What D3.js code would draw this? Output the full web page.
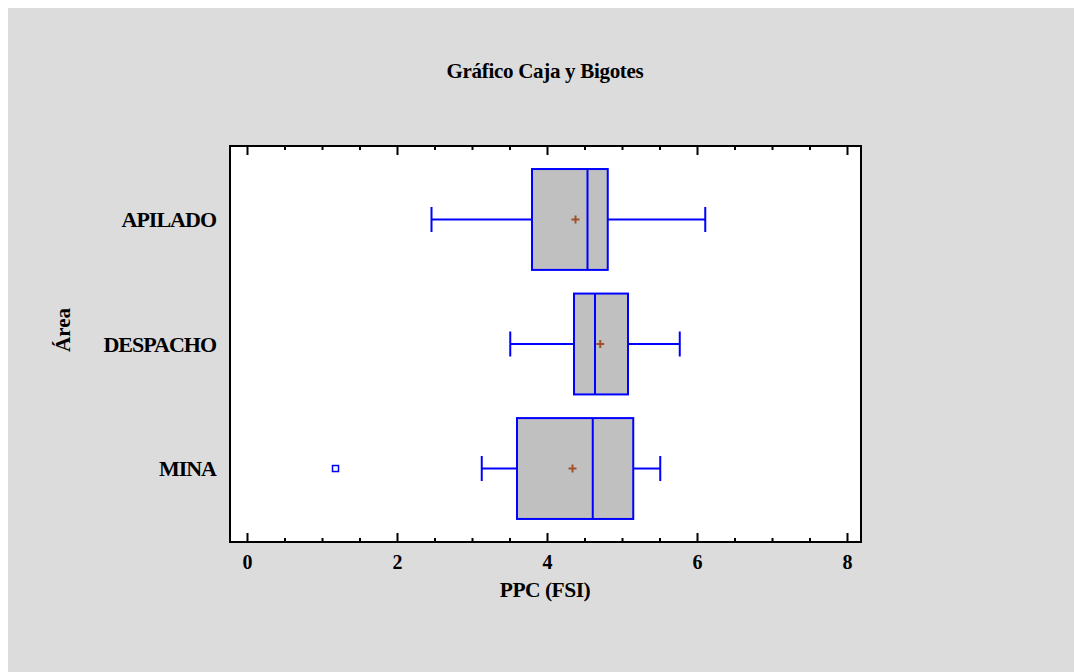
<!DOCTYPE html>
<html>
<head>
<meta charset="utf-8">
<script src="https://cdn.jsdelivr.net/npm/d3@7"></script>
<style>
  html, body { margin: 0; padding: 0; background: #ffffff; }
  svg { display: block; }
  text { font-family: "Liberation Serif", "Times New Roman", serif; font-weight: bold; fill: #000; }
</style>
</head>
<body>
<script>
// Box-and-whisker summaries of PPC (FSI) per area
const areas      = ["APILADO", "DESPACHO", "MINA"];
const whiskerLow = [2.46, 3.51, 3.13];
const q1         = [3.80, 4.36, 3.60];
const medians    = [4.54, 4.64, 4.61];
const q3         = [4.81, 5.08, 5.15];
const whiskerHigh= [6.11, 5.77, 5.51];
const means      = [4.38, 4.71, 4.34];
const outliers   = [[], [], [1.18]];
const xTicks     = [0, 2, 4, 6, 8];

const title  = "Gráfico Caja y Bigotes";
const xTitle = "PPC (FSI)";
const yTitle = "Área";

const W = 1075, H = 672;
const frame = { left: 230, right: 861, top: 146, bottom: 542 };

const svg = d3.select("body").append("svg").attr("width", W).attr("height", H);

// outer panel
svg.append("rect").attr("x", 8).attr("y", 8).attr("width", W - 9).attr("height", H - 8).attr("fill", "#dcdcdc");

// plot area
svg.append("rect")
  .attr("x", frame.left).attr("y", frame.top)
  .attr("width", frame.right - frame.left).attr("height", frame.bottom - frame.top)
  .attr("fill", "#ffffff");

const x = d3.scaleLinear().domain([0, 8]).range([247, 847]);
const y = d3.scalePoint().domain(areas).range([frame.top, frame.bottom]).padding(0.59);
const boxH = y.step() * 0.81;
const capH = 25;

const minorTicks = d3.range(0, 8.01, 0.5).filter(v => !xTicks.includes(v));

// inward ticks on bottom and top edges
function tickAxis(gen, yPos, len, values, labels) {
  const g = svg.append("g").attr("transform", `translate(0,${yPos})`)
    .call(gen(x).tickValues(values).tickSize(len).tickSizeOuter(0)
      .tickFormat(labels ? d3.format("d") : () => ""));
  g.select(".domain").remove();
  g.selectAll(".tick line").attr("stroke", "#000").attr("stroke-width", 2);
  return g;
}
const bottomMajor = tickAxis(d3.axisBottom, frame.bottom, -9, xTicks, true);
bottomMajor.selectAll(".tick text")
  .attr("y", 27).attr("dy", null)
  .style("font-size", "20px");
tickAxis(d3.axisBottom, frame.bottom, -4, minorTicks, false);
tickAxis(d3.axisTop, frame.top, -9, xTicks, false);
tickAxis(d3.axisTop, frame.top, -4, minorTicks, false);

// category labels
svg.append("g").selectAll("text").data(areas).join("text")
  .attr("x", 216).attr("y", d => y(d)).attr("dy", "0.35em")
  .attr("text-anchor", "end").style("font-size", "22px")
  .style("letter-spacing", "-1px")
  .text(d => d);

// boxes
const rows = areas.map((a, i) => ({
  area: a, lo: whiskerLow[i], q1: q1[i], med: medians[i], q3: q3[i],
  hi: whiskerHigh[i], mean: means[i], out: outliers[i]
}));

const blue = "#0000ff";
const gBox = svg.append("g");
rows.forEach(r => {
  const cy = y(r.area);
  const g = gBox.append("g");
  // whiskers
  g.append("line").attr("x1", x(r.lo)).attr("x2", x(r.q1)).attr("y1", cy).attr("y2", cy)
    .attr("stroke", blue).attr("stroke-width", 2);
  g.append("line").attr("x1", x(r.q3)).attr("x2", x(r.hi)).attr("y1", cy).attr("y2", cy)
    .attr("stroke", blue).attr("stroke-width", 2);
  [r.lo, r.hi].forEach(v => {
    g.append("line").attr("x1", x(v)).attr("x2", x(v))
      .attr("y1", cy - capH / 2).attr("y2", cy + capH / 2)
      .attr("stroke", blue).attr("stroke-width", 2);
  });
  // box
  g.append("rect").attr("x", x(r.q1)).attr("y", cy - boxH / 2)
    .attr("width", x(r.q3) - x(r.q1)).attr("height", boxH)
    .attr("fill", "#c0c0c0").attr("stroke", blue).attr("stroke-width", 2);
  // median
  g.append("line").attr("x1", x(r.med)).attr("x2", x(r.med))
    .attr("y1", cy - boxH / 2).attr("y2", cy + boxH / 2)
    .attr("stroke", blue).attr("stroke-width", 2);
  // mean marker
  const mx = x(r.mean);
  g.append("path").attr("d", `M${mx - 4},${cy}H${mx + 4}M${mx},${cy - 4}V${cy + 4}`)
    .attr("stroke", "#a0522d").attr("stroke-width", 2);
  // outliers
  g.selectAll("rect.out").data(r.out).join("rect").attr("class", "out")
    .attr("x", v => x(v) - 3).attr("y", cy - 3).attr("width", 6).attr("height", 6)
    .attr("fill", "#ffffff").attr("stroke", blue).attr("stroke-width", 1.5);
});

// plot frame
svg.append("rect")
  .attr("x", frame.left).attr("y", frame.top)
  .attr("width", frame.right - frame.left).attr("height", frame.bottom - frame.top)
  .attr("fill", "none").attr("stroke", "#000").attr("stroke-width", 2);

// titles
svg.append("text").attr("x", 545).attr("y", 78).attr("text-anchor", "middle")
  .style("font-size", "21px").style("letter-spacing", "-0.3px").text(title);
svg.append("text").attr("x", 545).attr("y", 597).attr("text-anchor", "middle")
  .style("font-size", "21.5px").style("letter-spacing", "-0.5px").text(xTitle);
svg.append("text").attr("transform", "translate(70,330) rotate(-90)")
  .attr("text-anchor", "middle").style("font-size", "21px").text(yTitle);
</script>
</body>
</html>
